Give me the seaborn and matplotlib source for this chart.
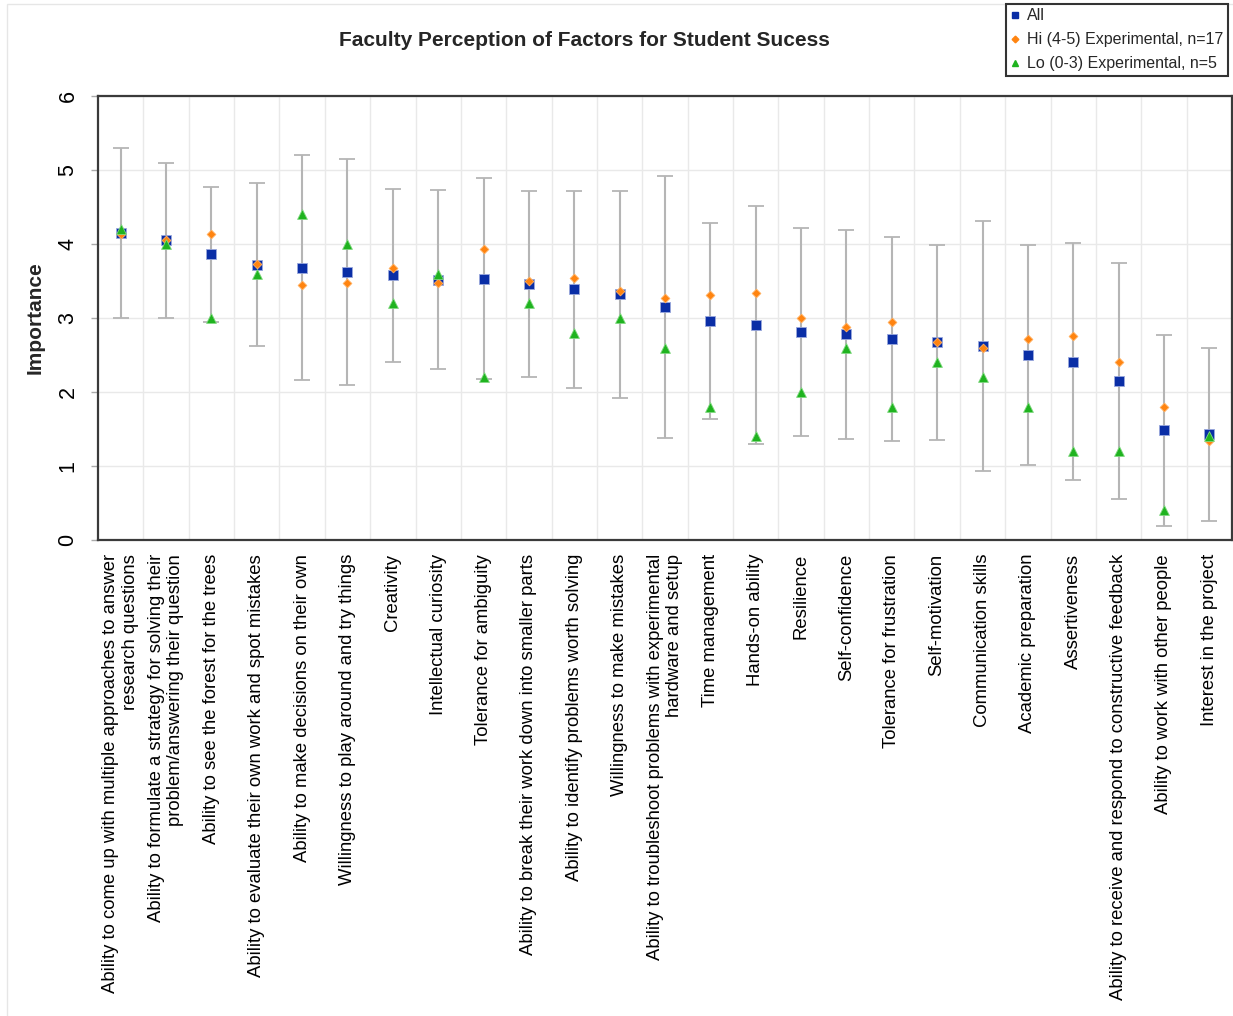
import numpy as np
import pandas as pd
import matplotlib
matplotlib.use("Agg")
import matplotlib.pyplot as plt
from matplotlib.lines import Line2D
from matplotlib.patches import Rectangle
import seaborn as sns

# ---------------- data ----------------
factors = [
    "Ability to come up with multiple approaches to answer\nresearch questions",
    "Ability to formulate a strategy for solving their\nproblem/answering their question",
    "Ability to see the forest for the trees",
    "Ability to evaluate their own work and spot mistakes",
    "Ability to make decisions on their own",
    "Willingness to play around and try things",
    "Creativity",
    "Intellectual curiosity",
    "Tolerance for ambiguity",
    "Ability to break their work down into smaller parts",
    "Ability to identify problems worth solving",
    "Willingness to make mistakes",
    "Ability to troubleshoot problems with experimental\nhardware and setup",
    "Time management",
    "Hands-on ability",
    "Resilience",
    "Self-confidence",
    "Tolerance for frustration",
    "Self-motivation",
    "Communication skills",
    "Academic preparation",
    "Assertiveness",
    "Ability to receive and respond to constructive feedback",
    "Ability to work with other people",
    "Interest in the project",
]
all_mean = [4.15, 4.05, 3.86, 3.72, 3.68, 3.62, 3.58, 3.52, 3.53, 3.46, 3.39, 3.32, 3.15,
            2.96, 2.91, 2.81, 2.78, 2.72, 2.67, 2.62, 2.50, 2.41, 2.15, 1.48, 1.43]
hi_mean = [4.14, 4.06, 4.14, 3.73, 3.44, 3.47, 3.67, 3.47, 3.93, 3.50, 3.54, 3.37, 3.27,
           3.31, 3.34, 3.00, 2.88, 2.94, 2.67, 2.60, 2.71, 2.76, 2.40, 1.80, 1.34]
lo_mean = [4.20, 4.00, 3.00, 3.60, 4.40, 4.00, 3.20, 3.60, 2.20, 3.20, 2.80, 3.00, 2.60,
           1.80, 1.40, 2.00, 2.60, 1.80, 2.40, 2.20, 1.80, 1.20, 1.20, 0.40, 1.40]
all_sd = [1.15, 1.05, 0.91, 1.10, 1.52, 1.53, 1.17, 1.21, 1.36, 1.26, 1.33, 1.40, 1.77,
          1.33, 1.61, 1.40, 1.41, 1.38, 1.32, 1.69, 1.48, 1.60, 1.59, 1.29, 1.17]
group_labels = ["All", "Hi (4-5) Experimental, n=17", "Lo (0-3) Experimental, n=5"]
y_ticks = [0, 1, 2, 3, 4, 5, 6]
title = "Faculty Perception of Factors for Student Sucess"
y_label = "Importance"

# ---------------- style ----------------
sns.set_theme(style="white")
plt.rcParams["font.family"] = ["Liberation Sans", "DejaVu Sans"]

W, H = 1233, 1016
fig = plt.figure(figsize=(W / 100, H / 100), dpi=100)
ax = fig.add_axes([98 / W, (H - 540) / H, (1232 - 98) / W, (540 - 96) / H])

colors = {"All": "#0a2ea6", "Hi": "#ff8410", "Lo": "#1fb31f"}
markers = {"All": "s", "Hi": "D", "Lo": "^"}
sizes = {"All": 46, "Hi": 20, "Lo": 50}
edges = {"All": "#9aa8dc", "Hi": "#ffb060", "Lo": "#7fd87f"}

df = pd.DataFrame({
    "Factor": factors * 3,
    "Group": ["All"] * len(factors) + ["Hi"] * len(factors) + ["Lo"] * len(factors),
    "Importance": all_mean + hi_mean + lo_mean,
})

for i, g in enumerate(["All", "Hi", "Lo"]):
    sns.scatterplot(data=df[df["Group"] == g], x="Factor", y="Importance",
                    color=colors[g], marker=markers[g], s=sizes[g],
                    edgecolor=edges[g], linewidth=0.6, ax=ax, zorder=4 + i,
                    legend=False)

ax.errorbar(factors, all_mean, yerr=all_sd, fmt="none", ecolor="#b5b5b5",
            elinewidth=1.5, capsize=5.5, capthick=1.3, zorder=3)

ax.set_xlim(-0.5, len(factors) - 0.5)
ax.set_ylim(0, 6)
ax.set_yticks(y_ticks)
ax.set_yticklabels([str(t) for t in y_ticks])
ax.set_xticks(np.arange(0.5, len(factors) - 0.5, 1.0), minor=True)

ax.grid(False)
ax.grid(which="minor", axis="x", color="#e9e9e9", linewidth=1.0)
ax.grid(which="major", axis="y", color="#e9e9e9", linewidth=1.0)
ax.set_axisbelow(True)

for sp in ax.spines.values():
    sp.set_color("#3a3a3a")
    sp.set_linewidth(1.6)

ax.tick_params(axis="x", which="both", length=0, pad=10, labelsize=13.3, labelcolor="black")
ax.tick_params(axis="y", which="major", length=5, width=1, color="#aaaaaa", pad=9,
               labelsize=15.5, labelcolor="black", left=True)
for lab in ax.get_xticklabels():
    lab.set_rotation(90)
    lab.set_ha("center")
    lab.set_va("top")
    lab.set_multialignment("right")
for lab in ax.get_yticklabels():
    lab.set_rotation(90)
    lab.set_va("center")

ax.set_xlabel("")
ax.set_ylabel("")
fig.text(35 / W, 1 - 318 / H, y_label, rotation=90, ha="center", va="center",
         fontsize=15, fontweight="bold")
fig.text(584 / W, 1 - 40 / H, title, ha="center", va="center", fontsize=15, fontweight="bold")

handles = [
    Line2D([], [], linestyle="none", marker="s", markersize=4.0, color=colors["All"]),
    Line2D([], [], linestyle="none", marker="D", markersize=3.4, color=colors["Hi"]),
    Line2D([], [], linestyle="none", marker="^", markersize=4.6, color=colors["Lo"]),
]
leg = fig.legend(handles, group_labels, loc="upper right",
                 bbox_to_anchor=(1228 / W, 1 - 4 / H), fontsize=11.5,
                 frameon=True, fancybox=False, edgecolor="#333333", framealpha=1,
                 borderpad=0.28, labelspacing=0.56, handlelength=0.6, handletextpad=0.45,
                 borderaxespad=0)
leg.get_frame().set_linewidth(1.5)

# faint outer page border
fig.add_artist(Rectangle((7 / W, -0.05), 1.2, 1.05 - 4 / H, transform=fig.transFigure,
                         fill=False, edgecolor="#e6e6e6", linewidth=1.0))

fig.savefig("out.png", dpi=100)
